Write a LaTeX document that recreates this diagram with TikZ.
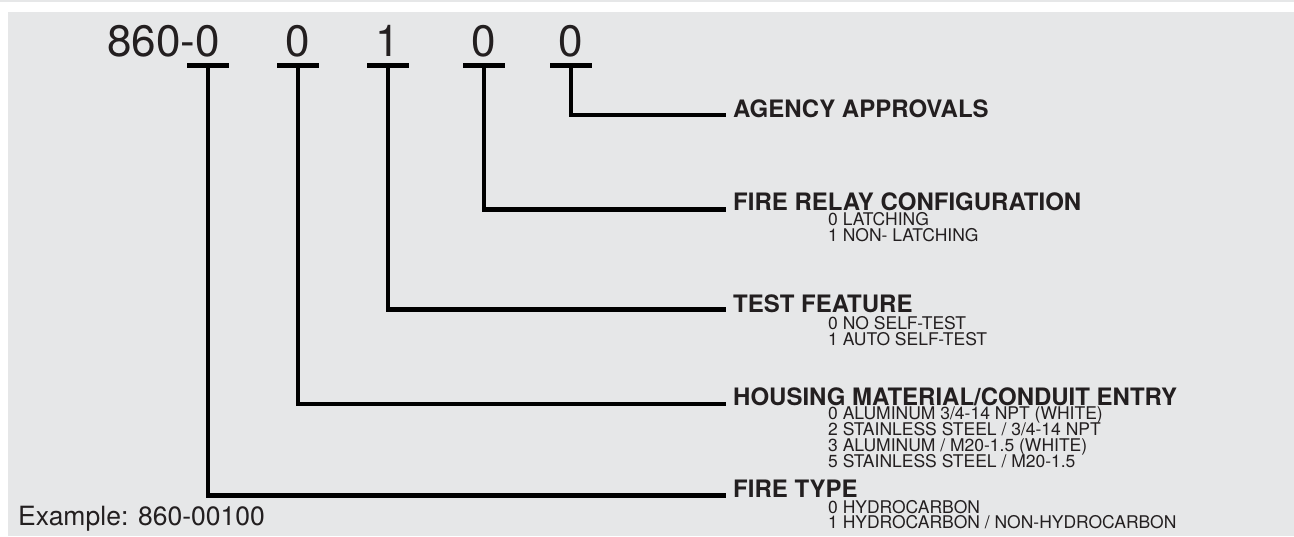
\documentclass[tikz,border=0pt]{standalone}
\usepackage{fontspec}
\setmainfont{TeX Gyre Heros}
\usepackage{tikz}
\usetikzlibrary{calc}
\definecolor{panel}{HTML}{E6E7E8}
\definecolor{ink}{HTML}{231F20}

\tikzset{
  digit/.style={anchor=base, inner sep=0pt, text=ink, font=\fontsize{44}{44}\selectfont},
  title/.style={anchor=base west, inner sep=0pt, text=ink, font=\bfseries\fontsize{24}{24}\selectfont},
  option/.style={anchor=base west, inner sep=0pt, text=ink, font=\fontsize{17.5}{16}\selectfont},
  tbar/.style={line width=5pt},
  lead/.style={line width=4.5pt, line join=miter},
}

\begin{document}
\begin{tikzpicture}[x=1pt, y=-1pt]
    \useasboundingbox (0,0) rectangle (1294,536);

    % Panel
    \fill[panel] (8,12) rectangle (1294,536);
    \draw[panel, line width=1.5pt] (0,0.75) -- (1294,0.75);

    % Model number
    \node[digit, anchor=base east] (prefix) at (220,56) {860-0};
    \node[digit] (d2) at (298,56) {0};
    \node[digit] (d3) at (388,56) {1};
    \node[digit] (d4) at (484,56) {0};
    \node[digit] (d5) at (571,56) {0};

    % T bars under each digit
    \coordinate (b1) at (208,65.5);
    \coordinate (b2) at (298,65.5);
    \coordinate (b3) at (388,65.5);
    \coordinate (b4) at (484,65.5);
    \coordinate (b5) at (571,65.5);
    \foreach \b in {b1,b2,b3,b4,b5}
        \draw[tbar] ($(\b)+(-21,0)$) -- ($(\b)+(21,0)$);

    % Leader ends
    \coordinate (e5) at (726,115);
    \coordinate (e4) at (726,209.5);
    \coordinate (e3) at (726,309.5);
    \coordinate (e2) at (726,404);
    \coordinate (e1) at (726,495.5);

    % Leaders
    \draw[lead] (b5) |- (e5);
    \draw[lead] (b4) |- (e4);
    \draw[lead] (b3) |- (e3);
    \draw[lead] (b2) |- (e2);
    \draw[lead] (b1) |- (e1);

    % Agency approvals
    \node[title] (agency) at (733,117) {AGENCY APPROVALS};

    % Fire relay configuration
    \node[title] (relay) at (733,210) {FIRE RELAY CONFIGURATION};
    \foreach \t [count=\i from 0] in {0 LATCHING, 1 NON- LATCHING}
        \node[option] (relay-\i) at (828,225+16.5*\i) {\t};

    % Test feature
    \node[title] (test) at (733,312) {TEST FEATURE};
    \foreach \t [count=\i from 0] in {0 NO SELF-TEST, 1 AUTO SELF-TEST}
        \node[option] (test-\i) at (828,329+16*\i) {\t};

    % Housing material
    \node[title] (housing) at (733,405.5) {HOUSING MATERIAL/CONDUIT ENTRY};
    \foreach \t [count=\i from 0] in {0 ALUMINUM 3/4-14 NPT (WHITE),
                                      2 STAINLESS STEEL / 3/4-14 NPT,
                                      3 ALUMINUM / M20-1.5 (WHITE),
                                      5 STAINLESS STEEL / M20-1.5}
        \node[option] (housing-\i) at (828,419+16*\i) {\t};

    % Fire type
    \node[title] (firetype) at (733,497) {FIRE TYPE};
    \foreach \t [count=\i from 0] in {0 HYDROCARBON, 1 HYDROCARBON / NON-HYDROCARBON}
        \node[option] (firetype-\i) at (828,513+15.5*\i) {\t};

    % Example
    \node[anchor=base west, inner sep=0pt, text=ink, font=\fontsize{26.5}{27}\selectfont] (example) at (18,525) {Example: 860-00100};
\end{tikzpicture}
\end{document}
